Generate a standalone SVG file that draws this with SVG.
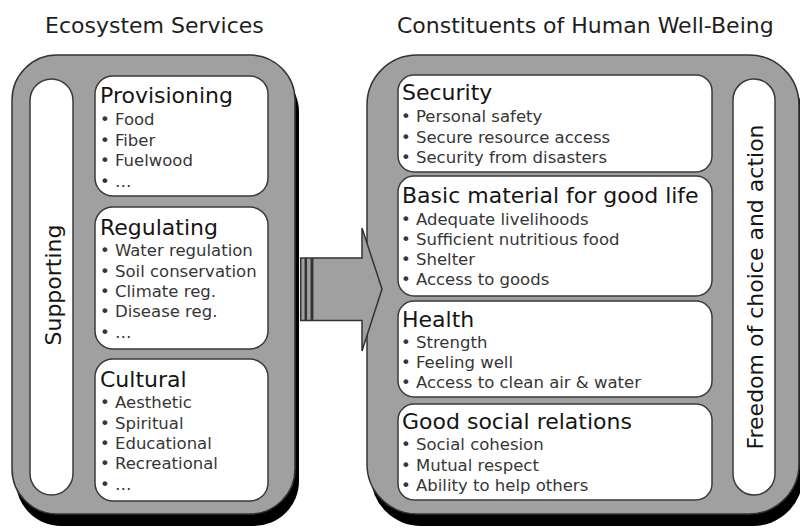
<svg xmlns="http://www.w3.org/2000/svg" width="800" height="530" viewBox="0 0 800 530">
<style>
text{font-family:"DejaVu Sans","Verdana",sans-serif}
.hdr{font-size:22px;fill:#1e1e1e}
.ttl{font-size:22px;fill:#151515}
.itm{font-size:16.5px;fill:#363636}
.outer{fill:#a0a0a0;stroke:#333;stroke-width:1.5}
.shadow{fill:#000}
.inner{fill:#fff;stroke:#3a3a3a;stroke-width:1.5}
.arrow{fill:#a0a0a0;stroke:#333;stroke-width:1.5;stroke-linejoin:miter}
</style>
<rect width="800" height="530" fill="#fff"/>
<text class="hdr" x="45" y="33">Ecosystem Services</text>
<text class="hdr" x="397" y="33">Constituents of Human Well-Being</text>

<g id="ecosystem-services">
<rect class="shadow" x="16" y="67" width="283" height="459" rx="45"/>
<rect class="outer" x="12" y="55" width="283" height="459" rx="45"/>
</g>
<g id="human-well-being">
<rect class="shadow" x="371" y="67" width="432" height="459" rx="50"/>
<rect class="outer" x="367" y="55" width="432" height="459" rx="50"/>
</g>

<g id="supporting">
<rect class="inner" x="30" y="79" width="43" height="416" rx="21.5"/>
<text class="ttl" text-anchor="middle" transform="translate(61 285) rotate(-90)">Supporting</text>
</g>

<g id="provisioning">
<rect class="inner" x="95" y="76" width="173" height="120" rx="18"/>
<text class="ttl" x="100" y="103">Provisioning</text>
<text class="itm" x="100" y="125">• Food</text>
<text class="itm" x="100" y="146">• Fiber</text>
<text class="itm" x="100" y="166">• Fuelwood</text>
<text class="itm" x="100" y="187">• …</text>
</g>
<g id="regulating">
<rect class="inner" x="95" y="207" width="173" height="142" rx="18"/>
<text class="ttl" x="100" y="235">Regulating</text>
<text class="itm" x="100" y="256">• Water regulation</text>
<text class="itm" x="100" y="277">• Soil conservation</text>
<text class="itm" x="100" y="297">• Climate reg.</text>
<text class="itm" x="100" y="317">• Disease reg.</text>
<text class="itm" x="100" y="338">• …</text>
</g>
<g id="cultural">
<rect class="inner" x="95" y="359" width="173" height="142" rx="18"/>
<text class="ttl" x="100" y="387">Cultural</text>
<text class="itm" x="100" y="408">• Aesthetic</text>
<text class="itm" x="100" y="429">• Spiritual</text>
<text class="itm" x="100" y="449">• Educational</text>
<text class="itm" x="100" y="469">• Recreational</text>
<text class="itm" x="100" y="490">• …</text>
</g>

<g id="connectors">
<rect class="arrow" x="300.7" y="258" width="4.6" height="62.5"/>
<rect class="arrow" x="306.3" y="258" width="5" height="62.5"/>
<polygon class="arrow" points="312.7,258 362,258 362,228 382,289 362,351 362,320.5 312.7,320.5"/>
</g>

<g id="security">
<rect class="inner" x="398" y="75" width="314" height="97" rx="16"/>
<text class="ttl" x="402" y="100">Security</text>
<text class="itm" x="401" y="122">• Personal safety</text>
<text class="itm" x="401" y="143">• Secure resource access</text>
<text class="itm" x="401" y="163">• Security from disasters</text>
</g>
<g id="basic-material">
<rect class="inner" x="398" y="176" width="314" height="120" rx="16"/>
<text class="ttl" x="402" y="203">Basic material for good life</text>
<text class="itm" x="401" y="225">• Adequate livelihoods</text>
<text class="itm" x="401" y="245">• Sufficient nutritious food</text>
<text class="itm" x="401" y="265">• Shelter</text>
<text class="itm" x="401" y="285">• Access to goods</text>
</g>
<g id="health">
<rect class="inner" x="398" y="301" width="314" height="96" rx="16"/>
<text class="ttl" x="402" y="327">Health</text>
<text class="itm" x="401" y="348">• Strength</text>
<text class="itm" x="401" y="368">• Feeling well</text>
<text class="itm" x="401" y="388">• Access to clean air &amp; water</text>
</g>
<g id="social-relations">
<rect class="inner" x="398" y="404" width="314" height="96" rx="16"/>
<text class="ttl" x="402" y="429">Good social relations</text>
<text class="itm" x="401" y="450">• Social cohesion</text>
<text class="itm" x="401" y="471">• Mutual respect</text>
<text class="itm" x="401" y="491">• Ability to help others</text>
</g>
<g id="freedom">
<rect class="inner" x="733" y="79" width="42" height="416" rx="21"/>
<text class="ttl" text-anchor="middle" transform="translate(763 287) rotate(-90)">Freedom of choice and action</text>
</g>
</svg>
